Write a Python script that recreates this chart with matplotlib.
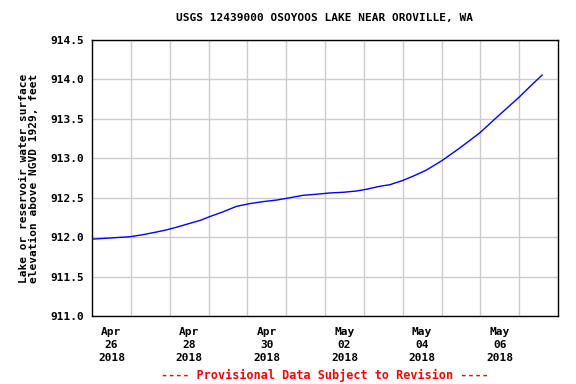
import matplotlib
matplotlib.use("Agg")
import matplotlib.pyplot as plt
import matplotlib.dates as mdates
import numpy as np
from datetime import datetime, timedelta

# Data (days since 2018-04-26 00:00, elevation in feet)
days = [0.0, 0.5, 0.97, 1.3, 1.66, 1.9, 2.17, 2.52, 2.8, 3.03, 3.37, 3.72, 4.06,
        4.4, 4.75, 5.1, 5.43, 5.8, 6.12, 6.5, 6.81, 7.1, 7.41, 7.67, 8.01,
        8.3, 8.61, 9.01, 9.47, 9.98, 10.49, 11.01, 11.3, 11.59]
elev = [911.975, 911.99, 912.005, 912.03, 912.065, 912.09, 912.125, 912.175,
        912.215, 912.26, 912.32, 912.39, 912.425, 912.45, 912.47, 912.5,
        912.53, 912.545, 912.56, 912.57, 912.585, 912.61, 912.645, 912.665,
        912.72, 912.78, 912.85, 912.97, 913.13, 913.32, 913.55, 913.78,
        913.92, 914.055]

tick_labels = ["Apr\n26\n2018", "Apr\n28\n2018", "Apr\n30\n2018",
               "May\n02\n2018", "May\n04\n2018", "May\n06\n2018"]
y_ticks = [911.0, 911.5, 912.0, 912.5, 913.0, 913.5, 914.0, 914.5]

start = datetime(2018, 4, 26)
times = [start + timedelta(days=d) for d in days]

mono = "DejaVu Sans Mono"
fig = plt.figure(figsize=(5.76, 3.84), dpi=100)
ax = fig.add_axes([92/576, (384-316)/384, 466/576, 276/384])

ax.plot(times, elev, color="#0000ff", linewidth=1.0)

ax.set_xlim(start, start + timedelta(days=12))
ax.set_ylim(911.0, 914.5)

major = [start + timedelta(days=2*i, hours=12) for i in range(6)]
ax.set_xticks(major)
ax.set_xticklabels(tick_labels, family=mono, fontweight="bold", fontsize=8,
                   linespacing=1.35)
ax.set_xticks([start + timedelta(days=i) for i in range(1, 12)], minor=True)
ax.set_yticks(y_ticks)
ax.set_yticklabels([f"{v:.1f}" for v in y_ticks], family=mono,
                   fontweight="bold", fontsize=8)
ax.tick_params(axis="both", which="both", length=0)
ax.tick_params(axis="y", pad=6)
ax.tick_params(axis="x", pad=8)
ax.grid(True, which="minor", axis="x", color="#cccccc", linewidth=1)
ax.grid(True, which="major", axis="y", color="#cccccc", linewidth=1)
ax.grid(False, which="major", axis="x")
for s in ax.spines.values():
    s.set_color("black")
    s.set_linewidth(1)

ax.set_ylabel("Lake or reservoir water surface\nelevation above NGVD 1929, feet",
              family=mono, fontweight="bold", fontsize=8, linespacing=1.0,
              labelpad=8)

fig.text(325/576, 1 - 18/384, "USGS 12439000 OSOYOOS LAKE NEAR OROVILLE, WA",
         ha="center", va="center", family=mono, fontweight="bold", fontsize=8)
fig.text(325/576, 1 - 375/384, "---- Provisional Data Subject to Revision ----",
         ha="center", va="center", family=mono, fontweight="bold", fontsize=8.5,
         color="#ff0000")

fig.savefig("out.png", dpi=100)
